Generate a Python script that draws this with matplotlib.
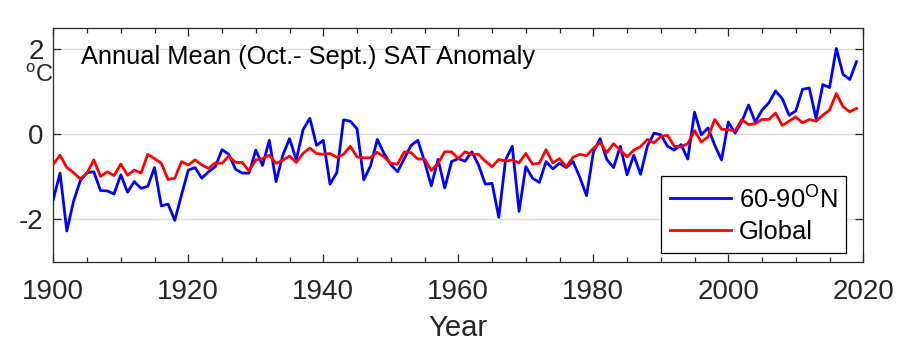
import numpy as np
import matplotlib
matplotlib.use("Agg")
import matplotlib.pyplot as plt
from matplotlib.ticker import MultipleLocator

plt.rcParams['font.family'] = ['Liberation Sans', 'DejaVu Sans']

years = np.arange(1900, 2020)

# 60-90N annual mean SAT anomaly (degC)
arctic = [
    -1.53, -0.91, -2.27, -1.57, -1.09, -0.90, -0.88, -1.32, -1.33, -1.40,
    -0.95, -1.36, -1.11, -1.27, -1.22, -0.78, -1.68, -1.64, -2.02, -1.42,
    -0.84, -0.78, -1.03, -0.88, -0.76, -0.36, -0.47, -0.82, -0.91, -0.91,
    -0.37, -0.73, -0.14, -1.11, -0.49, -0.10, -0.60, 0.11, 0.38, -0.26,
    -0.14, -1.17, -0.90, 0.34, 0.31, 0.13, -1.07, -0.74, -0.12, -0.45,
    -0.71, -0.88, -0.57, -0.26, -0.14, -0.64, -1.21, -0.59, -1.26, -0.64,
    -0.57, -0.63, -0.41, -0.72, -1.17, -1.15, -1.95, -0.60, -0.28, -1.81,
    -0.76, -1.03, -1.13, -0.64, -0.81, -0.68, -0.78, -0.64, -1.01, -1.44,
    -0.43, -0.10, -0.59, -0.78, -0.28, -0.95, -0.49, -0.94, -0.28, 0.03,
    -0.01, -0.28, -0.37, -0.24, -0.58, 0.52, -0.01, 0.15, -0.26, -0.60,
    0.29, 0.03, 0.30, 0.69, 0.29, 0.57, 0.74, 1.02, 0.84, 0.45,
    0.55, 1.06, 1.09, 0.37, 1.17, 1.10, 2.02, 1.41, 1.29, 1.71,
]

# global annual mean SAT anomaly (degC)
global_mean = [
    -0.70, -0.49, -0.78, -0.90, -1.05, -0.91, -0.60, -0.99, -0.88, -0.97,
    -0.70, -0.96, -0.84, -0.91, -0.47, -0.57, -0.68, -1.06, -1.03, -0.64,
    -0.72, -0.60, -0.72, -0.80, -0.67, -0.68, -0.51, -0.66, -0.66, -0.86,
    -0.60, -0.57, -0.49, -0.68, -0.61, -0.51, -0.66, -0.45, -0.32, -0.45,
    -0.47, -0.45, -0.54, -0.47, -0.28, -0.53, -0.55, -0.55, -0.42, -0.53,
    -0.68, -0.70, -0.41, -0.43, -0.58, -0.58, -0.85, -0.68, -0.41, -0.41,
    -0.57, -0.41, -0.47, -0.47, -0.63, -0.76, -0.59, -0.63, -0.60, -0.67,
    -0.45, -0.70, -0.68, -0.36, -0.67, -0.57, -0.76, -0.54, -0.47, -0.50,
    -0.33, -0.19, -0.43, -0.22, -0.37, -0.53, -0.37, -0.29, -0.12, -0.20,
    -0.05, -0.02, -0.28, -0.29, -0.22, 0.09, -0.18, -0.06, 0.35, 0.12,
    0.11, 0.08, 0.35, 0.23, 0.25, 0.35, 0.35, 0.50, 0.21, 0.31,
    0.41, 0.27, 0.35, 0.31, 0.45, 0.57, 0.96, 0.65, 0.53, 0.61,
]

series_labels = ['60-90$^{\\mathregular{O}}$N', 'Global']
x_ticks = [1900, 1920, 1940, 1960, 1980, 2000, 2020]
y_ticks = [-2, 0, 2]

W, H = 915, 349
fig = plt.figure(figsize=(W / 100, H / 100), dpi=100)
ax = fig.add_axes([53.3 / W, 1 - 262 / H, 810 / W, 234 / H])

ax.plot(years, arctic, color=(0, 0, 1), lw=2.0, label=series_labels[0], zorder=3)
ax.plot(years, global_mean, color=(1, 0, 0), lw=2.0, label=series_labels[1], zorder=4)

ax.set_xlim(1900, 2020)
ax.set_ylim(-3, 2.5)
ax.set_xticks(x_ticks)
ax.xaxis.set_minor_locator(MultipleLocator(5))
ax.set_yticks(y_ticks)
ax.set_yticklabels([str(v) for v in y_ticks])

ax.yaxis.grid(True, color='#dcdcdc', lw=1.0)
ax.set_axisbelow(True)

txt_col = '#262626'
ax.tick_params(which='both', direction='in', top=True, right=True,
               colors=txt_col, labelsize=20, width=0.9)
ax.tick_params(which='major', length=6)
ax.tick_params(which='minor', length=3.5)
ax.tick_params(axis='x', pad=12)
ax.tick_params(axis='y', pad=7)
for s in ax.spines.values():
    s.set_linewidth(0.9)
    s.set_color(txt_col)

ax.set_xlabel('Year', fontsize=21, color=txt_col, labelpad=7)

ax.text(0.034, 0.877, 'Annual Mean (Oct.- Sept.) SAT Anomaly',
        transform=ax.transAxes, fontsize=18.3, va='center', ha='left', color='black')

# unit label sits just under the "2" tick label
fig.text(39 / W, 1 - 82 / H, '$^{\\mathregular{o}}$C', fontsize=17,
         ha='center', va='baseline', color=txt_col)

leg = ax.legend(loc='lower right', bbox_to_anchor=(0.9786, 0.0385),
                borderaxespad=0, fontsize=18.4, handlelength=2.4,
                handletextpad=0.3, labelspacing=0.3, borderpad=0.35,
                fancybox=False, framealpha=1, edgecolor='black')
leg.get_frame().set_linewidth(0.9)

fig.savefig('out.png', dpi=100)
